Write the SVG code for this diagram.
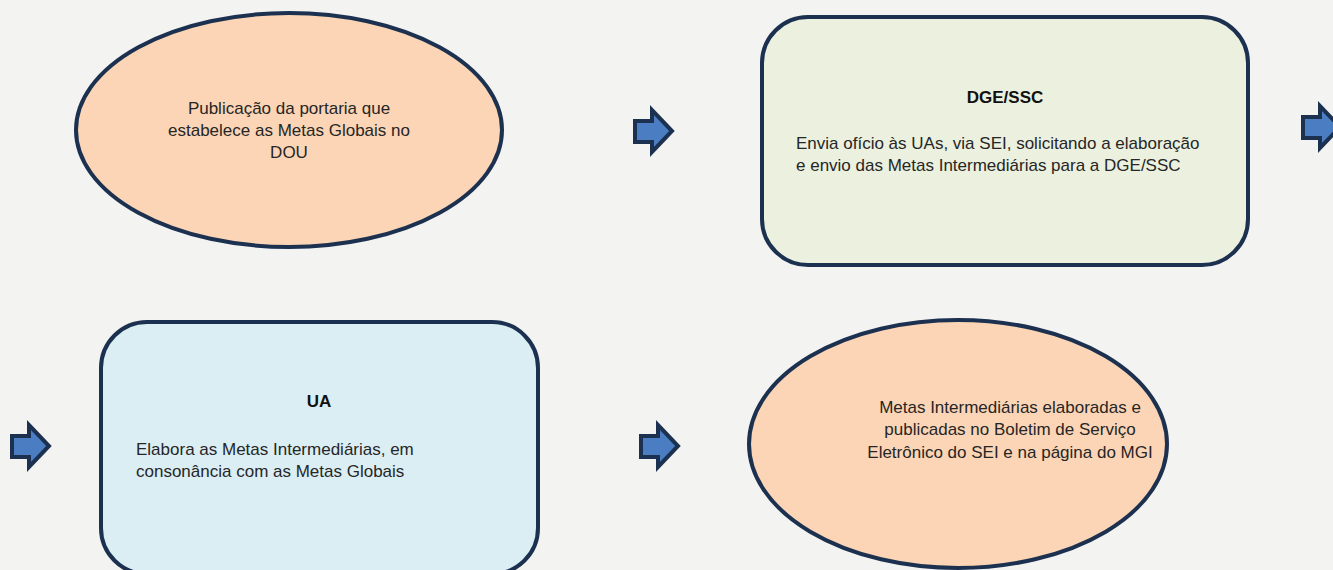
<svg xmlns="http://www.w3.org/2000/svg" width="1333" height="570" viewBox="0 0 1333 570">
<defs>
<style>
.shape{stroke:#1c3150;stroke-width:4}
.t{font-family:"Liberation Sans",Arial,sans-serif;font-size:17px;fill:#262626}
.c{text-anchor:middle}
.b{font-weight:bold;fill:#111}
.arrow{fill:#4a7dc2;stroke:#1c3150;stroke-width:4;stroke-linejoin:miter}
</style>
<polygon id="arr" class="arrow" points="0,11 17,11 17,0 37,21 17,42 17,32 0,32"/>
</defs>
<rect width="1333" height="570" fill="#f3f3f2"/>
<g id="connectors">
<use href="#arr" x="635" y="110"/>
<use href="#arr" x="1303" y="106"/>
<use href="#arr" x="12" y="425"/>
<use href="#arr" x="641" y="425"/>
</g>
<g id="node1">
<ellipse class="shape" cx="289" cy="130" rx="213" ry="117" fill="#fbd5b5"/>
<text class="t c" x="289" y="114">Publicação da portaria que</text>
<text class="t c" x="289" y="136">estabelece as Metas Globais no</text>
<text class="t c" x="289" y="158">DOU</text>
</g>
<g id="node2">
<rect class="shape" x="762" y="17" width="486" height="248" rx="46" fill="#ebf0df"/>
<text class="t c b" x="1005" y="103">DGE/SSC</text>
<text class="t" x="796" y="149">Envia ofício às UAs, via SEI, solicitando a elaboração</text>
<text class="t" x="796" y="171">e envio das Metas Intermediárias para a DGE/SSC</text>
</g>
<g id="node3">
<rect class="shape" x="101" y="322" width="437" height="252" rx="46" fill="#dbeef4"/>
<text class="t c b" x="319" y="407">UA</text>
<text class="t" x="136" y="455">Elabora as Metas Intermediárias, em</text>
<text class="t" x="136" y="477">consonância com as Metas Globais</text>
</g>
<g id="node4">
<ellipse class="shape" cx="958" cy="444" rx="209" ry="124" fill="#fbd5b5"/>
<text class="t c" x="1010" y="413">Metas Intermediárias elaboradas e</text>
<text class="t c" x="1010" y="435">publicadas no Boletim de Serviço</text>
<text class="t c" x="1010" y="458">Eletrônico do SEI e na página do MGI</text>
</g>
</svg>
